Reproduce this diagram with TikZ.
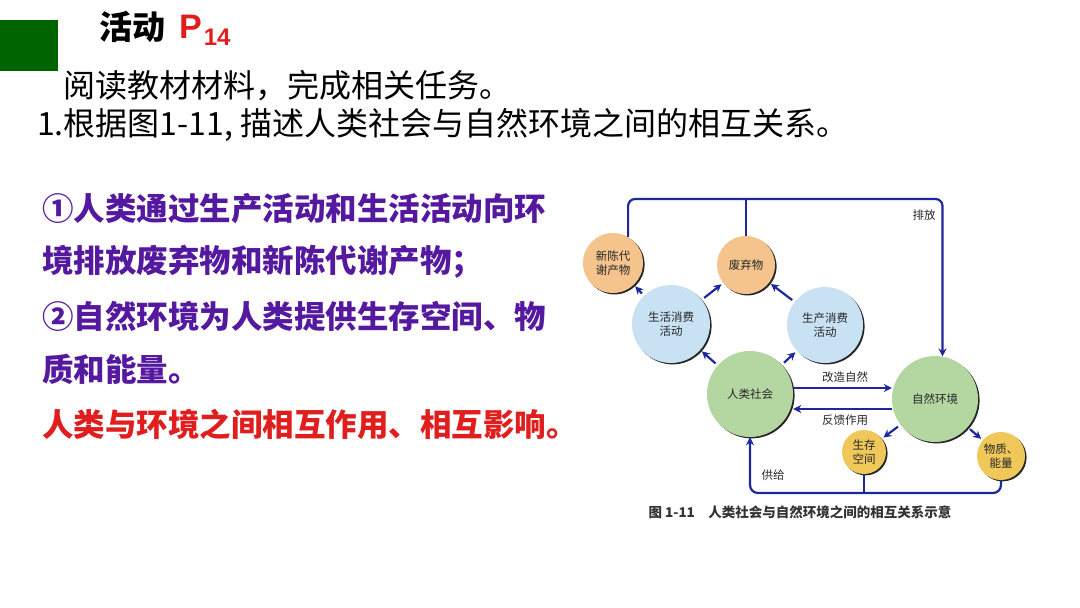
\documentclass[tikz,border=0pt]{standalone}
\usepackage{fontspec}
\setmainfont{Liberation Sans}
\newfontfamily\cjk{Noto Sans CJK SC}
\usetikzlibrary{arrows.meta, shadows}

\definecolor{slidegreen}{RGB}{0,100,0}
\definecolor{askpurple}{RGB}{85,25,160}
\definecolor{askred}{RGB}{225,30,30}
\definecolor{linkblue}{RGB}{30,40,155}
\definecolor{peach}{RGB}{244,196,140}
\definecolor{skyblue}{RGB}{200,225,243}
\definecolor{leafgreen}{RGB}{180,214,160}
\definecolor{straw}{RGB}{240,200,90}

\begin{document}
\begin{tikzpicture}[
    x=1pt, y=-1pt,
    bubble/.style={circle, inner sep=0pt, align=center, text=black!85,
        font=\cjk\fontsize{11.5}{14}\selectfont,
        drop shadow={shadow xshift=1.6pt, shadow yshift=-1.4pt, fill=black, opacity=0.85}},
    link/.style={draw=linkblue, line width=2.2pt},
    flow/.style={link, -{Stealth[length=8pt, width=8pt]}},
    tag/.style={font=\cjk\fontsize{11.5}{14}\selectfont, text=black!85},
    prompt/.style={anchor=west, inner sep=0pt, font=\cjk\fontsize{32}{36}\selectfont},
    answer/.style={anchor=west, inner sep=0pt, font=\cjk\bfseries\fontsize{31.5}{36}\selectfont, text=askpurple}
]
\useasboundingbox (0,0) rectangle (1080,608);

% ── Header ──────────────────────────────────────────────────
\node[fill=slidegreen, minimum width=58pt, minimum height=51pt, inner sep=0pt, anchor=north west] (tab) at (0,20) {};
\node[anchor=base west, inner sep=0pt, font=\cjk\bfseries\fontsize{33}{36}\selectfont] (title) at (99,39) {活动};
\node[anchor=base west, inner sep=0pt, text=askred, font=\bfseries\fontsize{34}{36}\selectfont] (page) at (179,38)
    {P\kern2pt\raisebox{-7pt}{\fontsize{24}{26}\selectfont 14}};

% ── Task lines ──────────────────────────────────────────────
\node[prompt] (task) at (63,86) {阅读教材材料，完成相关任务。};
\node[prompt] (ask) at (37,125) {1.根据图1-11, 描述人类社会与自然环境之间的相互关系。};

% ── Answer ──────────────────────────────────────────────────
\node[answer] (l1) at (42,209) {①人类通过生产活动和生活活动向环};
\node[answer] (l2) at (42,262) {境排放废弃物和新陈代谢产物；};
\node[answer] (l3) at (42,316) {②自然环境为人类提供生存空间、物};
\node[answer] (l4) at (42,369) {质和能量。};
\node[answer, text=askred] (l5) at (42,424) {人类与环境之间相互作用、相互影响。};

% ── Figure 1-11: circles ────────────────────────────────────
\node[bubble, fill=peach, minimum size=60pt] (xcdx) at (613,263) {新陈代\\谢产物};
\node[bubble, fill=peach, minimum size=58pt] (fqw)  at (746,265) {废弃物};
\node[bubble, fill=skyblue, minimum size=78pt] (shxf) at (671,324) {生活消费\\活动};
\node[bubble, fill=skyblue, minimum size=76pt] (scxf) at (825,325) {生产消费\\活动};
\node[bubble, fill=leafgreen, minimum size=86pt] (hs) at (750,394) {人类社会};
\node[bubble, fill=leafgreen, minimum size=86pt] (zr) at (935,399) {自然环境};
\node[bubble, fill=straw, minimum size=44pt] (sckj) at (864,452) {生存\\空间};
\node[bubble, fill=straw, minimum size=48pt] (wzn)  at (1001,456) {物质、\\能量};

% ── Figure 1-11: connectors ─────────────────────────────────
\foreach \a/\b in {hs/shxf, hs/scxf, shxf/xcdx, shxf/fqw, scxf/fqw, zr/sckj, zr/wzn}
    \draw[flow, shorten <=3pt, shorten >=2pt] (\a) -- (\b);

\draw[flow] ([yshift=6pt]hs.east) -- ([yshift=6pt]hs.east -| zr.west);
\draw[flow] ([yshift=-10pt]zr.west) -- ([yshift=-10pt]zr.west -| hs.east);

% top run: emissions back to the environment
\coordinate (toprun) at (750,199);
\draw[flow, rounded corners=7pt] (xcdx.60) |- (toprun) -| (zr.80);
\draw[link] (fqw.north) -- (fqw.north |- toprun);

% bottom run: supply back to society
\coordinate (botrun) at (860,493);
\draw[flow, rounded corners=8pt] (wzn.south) |- (botrun) -| (hs.south);
\draw[link] (sckj.south) -- (sckj.south |- botrun);

% ── Labels ──────────────────────────────────────────────────
\node[tag] (paifang) at (924,215) {排放};
\node[tag] (gaizao)  at (845,377) {改造自然};
\node[tag] (fankui)  at (845,420) {反馈作用};
\node[tag] (gongji)  at (773,475) {供给};
\node[font=\cjk\bfseries\fontsize{13.5}{15}\selectfont, text=black!80] (cap) at (800,512)
    {图 1-11\quad 人类社会与自然环境之间的相互关系示意};

\end{tikzpicture}
\end{document}
